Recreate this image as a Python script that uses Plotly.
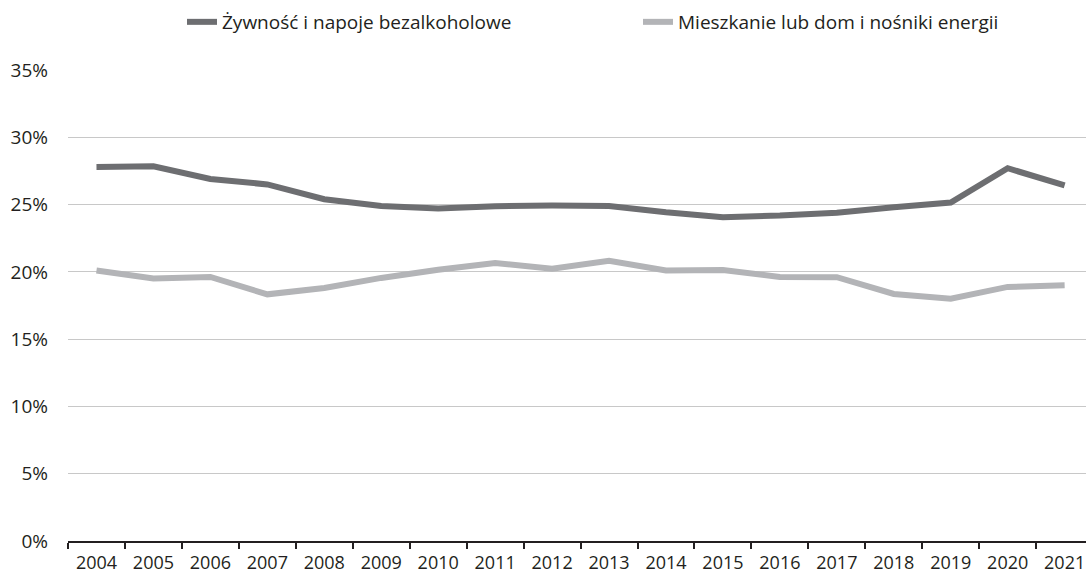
import plotly.graph_objects as go

years = [str(y) for y in range(2004, 2022)]
food = [27.8, 27.85, 26.9, 26.5, 25.4, 24.9, 24.7, 24.88, 24.93, 24.9,
        24.43, 24.06, 24.18, 24.4, 24.8, 25.15, 27.7, 26.42]
housing = [20.1, 19.5, 19.62, 18.33, 18.8, 19.55, 20.15, 20.66, 20.24, 20.82,
           20.11, 20.13, 19.62, 19.6, 18.36, 18.0, 18.88, 19.0]
names = ["Żywność i napoje bezalkoholowe", "Mieszkanie lub dom i nośniki energii"]
yticks = [0, 5, 10, 15, 20, 25, 30, 35]
ytext = [f"{v}%" for v in yticks]

FONT = "Open Sans"
TXT = "#231f20"

fig = go.Figure()
fig.add_trace(go.Scatter(x=years, y=food, mode="lines", name=names[0],
                         line=dict(color="#6d6e71", width=6)))
fig.add_trace(go.Scatter(x=years, y=housing, mode="lines", name=names[1],
                         line=dict(color="#b3b4b7", width=6)))

fig.update_layout(
    width=1086, height=576,
    margin=dict(l=68, r=0, t=70, b=35, autoexpand=False),
    paper_bgcolor="white", plot_bgcolor="white",
    font=dict(family=FONT, size=19, color=TXT),
    showlegend=True,
    legend=dict(orientation="h", xref="container", x=182 / 1086, xanchor="left",
                yref="container", y=1 - 22 / 576, yanchor="middle",
                font=dict(family=FONT, size=19, color=TXT),
                entrywidth=411, entrywidthmode="pixels",
                bgcolor="rgba(0,0,0,0)"),
)
fig.update_xaxes(
    type="category", range=[-0.5, 17.375], automargin=False,
    showline=True, linecolor="#231f20", linewidth=2,
    ticks="outside", ticklen=6, tickwidth=2, tickcolor="#231f20",
    tickson="boundaries", showgrid=False, zeroline=False,
    tickfont=dict(family=FONT, size=18, color=TXT),
    ticklabelstandoff=4,
)
fig.update_yaxes(
    range=[0, 35], tickvals=yticks, ticktext=ytext, automargin=False,
    showgrid=True, gridcolor="#c8c8c8", gridwidth=1,
    zeroline=False, showline=False, ticks="",
    tickfont=dict(family=FONT, size=19, color=TXT),
    ticklabelstandoff=19,
)

fig.write_html(
    "out.html",
    config={"displayModeBar": False},
    post_script="document.body.style.margin='0';document.body.style.overflow='hidden';",
)
